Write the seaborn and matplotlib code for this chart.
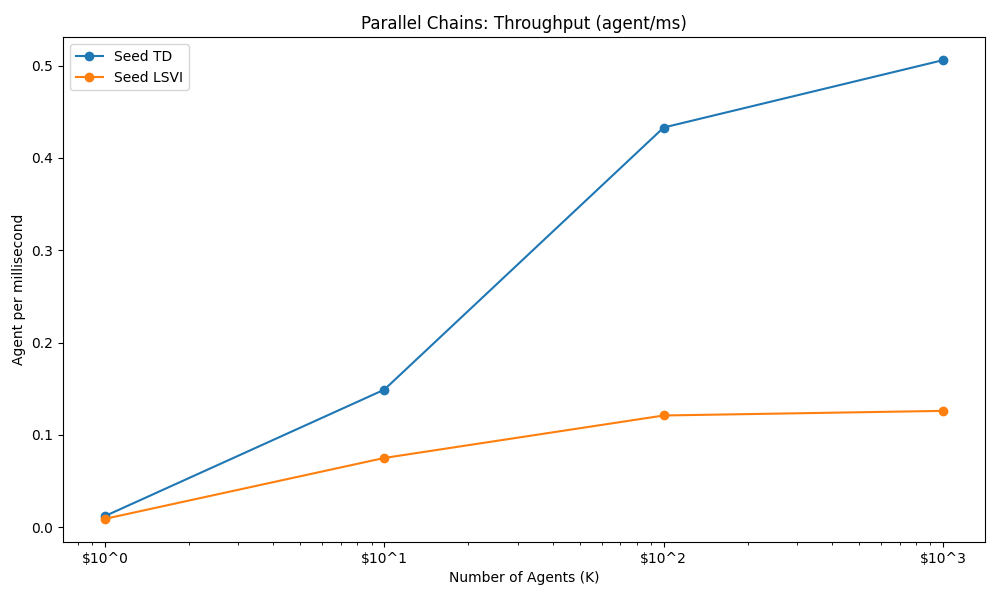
import matplotlib
matplotlib.use("Agg")
import matplotlib.pyplot as plt
import matplotlib.ticker as mticker
import seaborn as sns
import pandas as pd

agents = [1, 10, 100, 1000]
seed_td = [0.012, 0.149, 0.433, 0.506]
seed_lsvi = [0.009, 0.075, 0.121, 0.126]
tick_labels = ["$10^0", "$10^1", "$10^2", "$10^3"]


def main():
    df = pd.DataFrame({"agents": agents, "Seed TD": seed_td, "Seed LSVI": seed_lsvi})
    fig, ax = plt.subplots(figsize=(10, 6), dpi=100)
    ax.set_xscale("log")
    for name, color in [("Seed TD", "#1f77b4"), ("Seed LSVI", "#ff7f0e")]:
        sns.lineplot(data=df, x="agents", y=name, ax=ax, color=color, label=name,
                     marker="o", markersize=6, markeredgecolor=color,
                     markeredgewidth=1, linewidth=1.5)
    ax.xaxis.set_major_locator(mticker.FixedLocator(agents))
    ax.xaxis.set_major_formatter(mticker.FixedFormatter(tick_labels))
    ax.set_title("Parallel Chains: Throughput (agent/ms)")
    ax.set_xlabel("Number of Agents (K)")
    ax.set_ylabel("Agent per millisecond")
    ax.legend(loc="upper left")
    # same margins as the reference figure
    fig.subplots_adjust(left=0.063, right=0.985, top=0.938, bottom=0.097)
    plt.savefig("out.png")
    plt.close()


if __name__ == "__main__":
    main()
